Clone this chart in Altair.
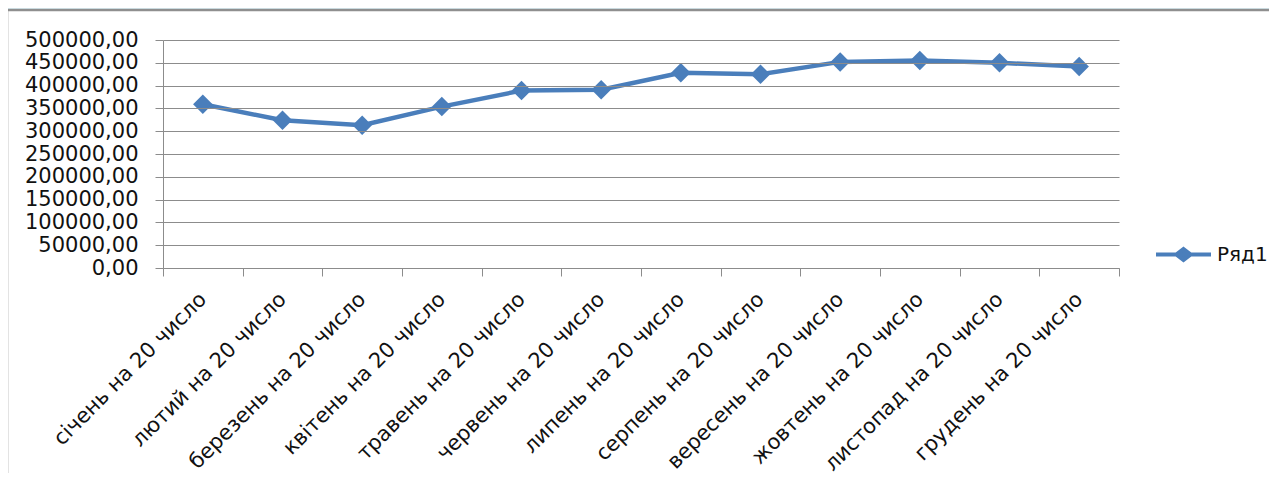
import altair as alt
import pandas as pd

months = [
    "січень на 20 число", "лютий на 20 число", "березень на 20 число",
    "квітень на 20 число", "травень на 20 число", "червень на 20 число",
    "липень на 20 число", "серпень на 20 число", "вересень на 20 число",
    "жовтень на 20 число", "листопад на 20 число", "грудень на 20 число",
]
values = [359000, 324000, 313000, 354000, 389000, 391000,
          428000, 425000, 452000, 455000, 450000, 442000]
series = ["Ряд1"] * len(months)

df = pd.DataFrame({"month": months, "value": values, "series": series})

FONT = "DejaVu Sans"
BLUE = "#4a7ebb"
GRID = "#8c8c8c"

W, H = 956, 228
PL, PT, PR, PB = 155, 32, 150, 205

frame = alt.Chart(alt.Data(values=[{}])).mark_rect(
    fill="white", stroke="#8f8f8f", strokeWidth=2.5
).encode(
    x=alt.value(-156), x2=alt.value(W + PR + 20),
    y=alt.value(-30), y2=alt.value(H + PB + 20),
)

legend_path = "M-1,0L1,0M0,-0.2L0.26,0L0,0.2L-0.26,0Z"

line = alt.Chart(df).mark_line(
    strokeWidth=4.5,
    point=alt.OverlayMarkDef(filled=True, shape="diamond", size=380, color=BLUE),
).encode(
    x=alt.X("month:N", sort=months, bandPosition=0.5,
            scale=alt.Scale(type="band", paddingInner=0, paddingOuter=0),
            axis=alt.Axis(title=None, labelAngle=-45, labelAlign="right",
                          labelBaseline="middle", labelPadding=20, labelLimit=0,
                          tickBand="extent", tickSize=8, grid=False, zindex=1,
                          labelFont=FONT, labelFontSize=21, labelColor="#111",
                          domainColor=GRID, tickColor=GRID)),
    y=alt.Y("value:Q",
            scale=alt.Scale(domain=[0, 500000], nice=False),
            axis=alt.Axis(title=None, values=list(range(0, 500001, 50000)),
                          labelExpr="replace(format(datum.value, '.2f'), '.', ',')",
                          tickSize=8, labelPadding=17, gridColor=GRID, zindex=1,
                          gridWidth=1, domainColor=GRID, tickColor=GRID,
                          labelFont=FONT, labelFontSize=21, labelColor="#111")),
    color=alt.Color("series:N", scale=alt.Scale(range=[BLUE]),
                    legend=alt.Legend(title=None, orient="none",
                                      legendX=991, legendY=185,
                                      symbolType=legend_path, symbolSize=3025,
                                      symbolStrokeWidth=4, symbolFillColor=BLUE,
                                      symbolStrokeColor=BLUE,
                                      labelFont=FONT, labelFontSize=20,
                                      labelColor="#111", labelOffset=4,
                                      labelLimit=200, padding=0)),
)

chart = alt.layer(frame, line).properties(
    width=W, height=H,
    background="#def3fa",
    padding={"left": PL, "top": PT, "right": PR, "bottom": PB},
    autosize=alt.AutoSizeParams(type="none"),
).configure_view(stroke=None)

chart.save("out.html", embed_options={"renderer": "svg", "actions": False})
